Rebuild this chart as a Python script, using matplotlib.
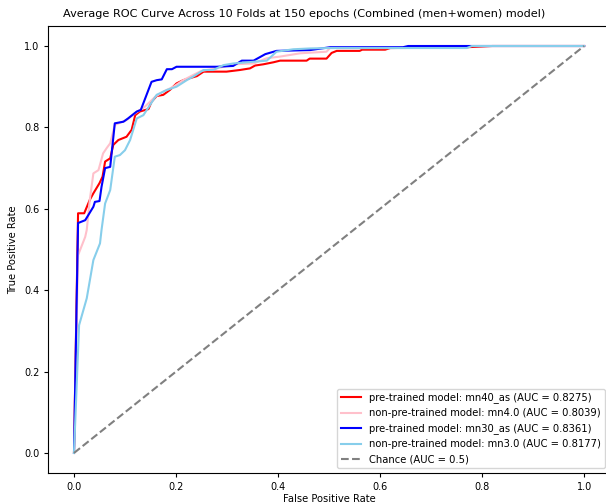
import matplotlib
matplotlib.use("Agg")
import matplotlib.pyplot as plt

# mean ROC curves (FPR, TPR)
fpr_mn40_as = [0.0, 0.008, 0.020, 0.031, 0.038, 0.050, 0.056, 0.061, 0.071, 0.077, 0.087,
               0.103, 0.113, 0.120, 0.129, 0.146, 0.152, 0.162, 0.175, 0.188, 0.201, 0.214,
               0.227, 0.241, 0.254, 0.299, 0.325, 0.345, 0.355, 0.371, 0.391, 0.404, 0.456,
               0.462, 0.495, 0.505, 0.515, 0.560, 0.565, 0.610, 0.620, 0.770, 0.820, 1.0]
tpr_mn40_as = [0.0, 0.589, 0.589, 0.622, 0.638, 0.663, 0.679, 0.716, 0.724, 0.757, 0.769,
               0.777, 0.794, 0.830, 0.839, 0.845, 0.863, 0.877, 0.880, 0.892, 0.908, 0.916,
               0.921, 0.926, 0.937, 0.937, 0.941, 0.945, 0.952, 0.955, 0.960, 0.964, 0.964,
               0.969, 0.969, 0.983, 0.988, 0.988, 0.991, 0.991, 0.995, 0.997, 1.0, 1.0]

fpr_mn4_0 = [0.0, 0.008, 0.022, 0.025, 0.031, 0.038, 0.048, 0.057, 0.064, 0.071, 0.080,
             0.103, 0.120, 0.139, 0.159, 0.175, 0.195, 0.214, 0.234, 0.250, 0.280, 0.312,
             0.352, 0.378, 0.404, 0.443, 0.495, 0.502, 0.650, 0.700, 1.0]
tpr_mn4_0 = [0.0, 0.486, 0.531, 0.548, 0.622, 0.687, 0.695, 0.736, 0.749, 0.761, 0.806,
             0.818, 0.835, 0.851, 0.875, 0.888, 0.900, 0.916, 0.929, 0.939, 0.945, 0.955,
             0.957, 0.970, 0.974, 0.982, 0.986, 0.995, 0.995, 1.0, 1.0]

fpr_mn30_as = [0.0, 0.008, 0.022, 0.038, 0.041, 0.050, 0.054, 0.061, 0.071, 0.080, 0.097,
               0.106, 0.123, 0.131, 0.152, 0.162, 0.172, 0.182, 0.192, 0.201, 0.280, 0.312,
               0.329, 0.352, 0.375, 0.397, 0.463, 0.502, 0.645, 0.655, 1.0]
tpr_mn30_as = [0.0, 0.565, 0.572, 0.605, 0.617, 0.619, 0.654, 0.700, 0.703, 0.810, 0.814,
               0.822, 0.839, 0.843, 0.912, 0.916, 0.918, 0.943, 0.943, 0.949, 0.949, 0.951,
               0.964, 0.964, 0.980, 0.988, 0.990, 0.997, 0.997, 1.0, 1.0]

fpr_mn3_0 = [0.0, 0.010, 0.025, 0.038, 0.051, 0.054, 0.061, 0.071, 0.080, 0.090, 0.100,
             0.110, 0.123, 0.136, 0.162, 0.182, 0.201, 0.221, 0.234, 0.254, 0.273, 0.293,
             0.312, 0.378, 0.397, 0.430, 0.463, 0.500, 0.770, 0.780, 1.0]
tpr_mn3_0 = [0.0, 0.314, 0.380, 0.474, 0.515, 0.548, 0.613, 0.646, 0.728, 0.732, 0.744,
             0.769, 0.822, 0.830, 0.880, 0.892, 0.900, 0.916, 0.925, 0.941, 0.941, 0.953,
             0.957, 0.964, 0.986, 0.992, 0.994, 0.995, 0.995, 1.0, 1.0]

curves = [
    ("pre-trained model: mn40_as", 0.8275, "red", fpr_mn40_as, tpr_mn40_as),
    ("non-pre-trained model: mn4.0", 0.8039, "pink", fpr_mn4_0, tpr_mn4_0),
    ("pre-trained model: mn30_as", 0.8361, "blue", fpr_mn30_as, tpr_mn30_as),
    ("non-pre-trained model: mn3.0", 0.8177, "skyblue", fpr_mn3_0, tpr_mn3_0),
]

fig = plt.figure(figsize=(6.06, 5.03), dpi=100)
ax = fig.add_axes([0.080, 0.059, 0.926, 0.890])

for name, auc, color, fpr, tpr in curves:
    ax.plot(fpr, tpr, color=color, linewidth=1.5, label=f"{name} (AUC = {auc:.4f})")
ax.plot([0, 1], [0, 1], color="gray", linestyle="--", linewidth=1.5, label="Chance (AUC = 0.5)")

ax.set_xlim(-0.05, 1.05)
ax.set_ylim(-0.05, 1.05)
ax.set_xlabel("False Positive Rate", fontsize=7.2, labelpad=1.5)
ax.set_ylabel("True Positive Rate", fontsize=7.2)
# the reference is cropped on the right, so the title sits left of the axes centre
ax.set_title("Average ROC Curve Across 10 Folds at 150 epochs (Combined (men+women) model)",
             fontsize=8.1, x=0.455)
ax.tick_params(labelsize=7, length=3)
ax.legend(loc="lower right", fontsize=7.2)

fig.savefig("out.png", dpi=100)
